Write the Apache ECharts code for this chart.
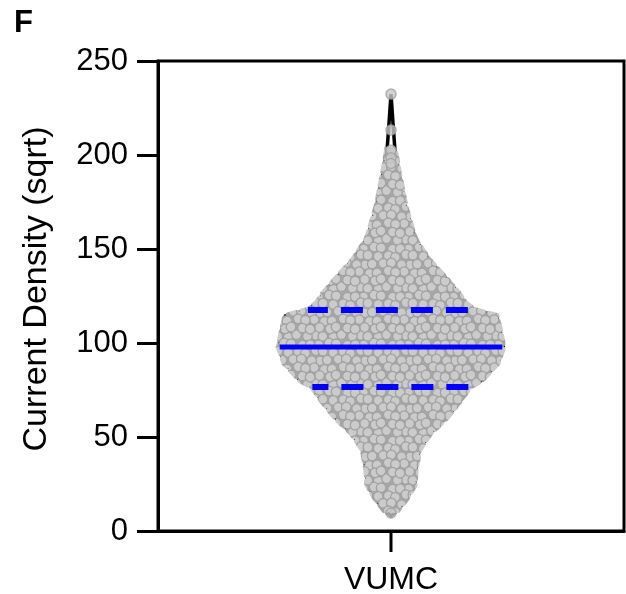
<!DOCTYPE html>
<html>
<head>
<meta charset="utf-8">
<script src="https://cdn.jsdelivr.net/npm/echarts@6/dist/echarts.min.js"></script>
<style>
html,body{margin:0;padding:0;background:#fff;}
#chart{width:626px;height:594px;}
</style>
</head>
<body>
<div id="chart"></div>
<script>
// ---- data ----
const categories = ['VUMC'];
const yMin = 0, yMax = 250, yInterval = 50;
const yName = 'Current Density (sqrt)';
const panelLabel = 'F';
// violin outline: value levels (top to bottom) and relative density (0..1)
const violinValues  = [232.4, 213.3, 202.7, 190.4, 172.3, 160.1, 154.8, 144.1, 133.5, 126.6, 121.3, 117.6, 114.4, 106.9, 97.9, 89.4, 80.3, 76.6, 69.7, 60.6, 52.1, 43.1, 32.4, 24.5, 16.5, 11.2, 8.0];
const violinDensity = [0, 0.022, 0.035, 0.07, 0.13, 0.19, 0.22, 0.34, 0.50, 0.60, 0.66, 0.74, 0.94, 0.97, 1.0, 0.95, 0.81, 0.70, 0.62, 0.50, 0.35, 0.25, 0.22, 0.21, 0.13, 0.06, 0];
const medianValue = 97.9;
const quartileValues = [76.6, 117.6];
const extremePoints = [232.4, 213.3, 202.5, 198.5, 195.5, 9.6];

// ---- styles ----
const FONT = '"Liberation Sans", Arial, Helvetica, sans-serif';
const MAX_HALF = 0.241; // fraction of band width at density 1

function makeTile(){
  const W = 45, H = 48;
  const c = document.createElement('canvas'); c.width = W; c.height = H;
  const g = c.getContext('2d');
  g.fillStyle = '#a8a8a8'; g.fillRect(0,0,W,H);
  const jit=[[0.8,-0.6],[-1.2,0.4],[0.3,1.1],[-0.5,-1.3],[1.4,0.2],[-0.9,0.9],[0.6,-1.0],[-1.4,-0.2],[1.0,1.2],[-0.3,0.7],[0.9,-1.4],[-1.1,-0.8],[0.2,0.5],[1.3,-0.3],[-0.7,1.3],[0.5,0.9],[-1.3,0.1],[0.7,-0.7],[-0.2,-1.1],[1.1,0.6],[-0.8,-0.4],[0.4,1.4],[-1.0,1.0],[1.2,-1.2],[-0.6,0.3],[0.1,-0.5],[1.5,0.8],[-1.5,-1.0],[0.9,0.1],[-0.4,1.2]];
  let k = 0;
  for (let r = 0; r < 6; r++) for (let col = 0; col < 5; col++) {
    const j = jit[k++];
    const x = col*9 + (r%2 ? 4.5 : 0) + j[0], y = r*8 + j[1];
    for (const ox of [-W,0,W]) for (const oy of [-H,0,H]) {
      g.beginPath(); g.arc(x+ox, y+oy, 4.8, 0, Math.PI*2);
      g.fillStyle = '#cbcbcb'; g.fill();
      g.lineWidth = 1.3; g.strokeStyle = '#a2a2a2'; g.stroke();
    }
  }
  return c;
}
const tile = makeTile();

function densityAt(v){
  for (let i = 0; i < violinValues.length-1; i++){
    const a = violinValues[i], b = violinValues[i+1];
    if (v <= a && v >= b){
      const t = (a - v)/(a - b);
      return violinDensity[i] + t*(violinDensity[i+1]-violinDensity[i]);
    }
  }
  return 0;
}

const chart = echarts.init(document.getElementById('chart'), null, {renderer:'canvas'});

function renderViolin(params, api){
  const bw = api.size([1,0])[0];
  const scale = bw*MAX_HALF;
  const cx = api.coord([0, medianValue])[0];
  const left = [], right = [], fl = [], fr = [];
  for (let i = 0; i < violinValues.length; i++){
    const y = api.coord([0, violinValues[i]])[1];
    const w = violinDensity[i]*scale;
    left.push([cx - w, y]); right.push([cx + w, y]);
    if (violinDensity[i] > 0.03){ fl.push([cx - w, y]); fr.push([cx + w, y]); }
  }
  const outline = left.concat(right.reverse());
  const fillPts = fl.concat(fr.reverse());
  const y0 = api.coord([0, yMin])[1];
  const children = [
    {type:'polygon', shape:{points: outline}, style:{fill:'none', stroke:'#000', lineWidth:3.5}},
    {type:'polygon', shape:{points: fillPts}, style:{fill:{image: tile, repeat:'repeat'}, stroke:{image: tile, repeat:'repeat'}, lineWidth:6, lineDash:[8,6], lineCap:'round'}},
    // x-axis tick under the category
    {type:'line', shape:{x1: cx, y1: y0, x2: cx, y2: y0 + 21}, style:{stroke:'#000', lineWidth:3}}
  ];
  const my = api.coord([0, medianValue])[1];
  const mw = densityAt(medianValue)*scale - 1;
  children.push({type:'line', shape:{x1: cx-mw, y1: my, x2: cx+mw, y2: my}, style:{stroke:'#0000ff', lineWidth:5}});
  const offsets = [6, 2];
  quartileValues.forEach(function(q, i){
    const qy = api.coord([0, q])[1];
    const qw = densityAt(q)*scale;
    children.push({type:'line', shape:{x1: cx-qw, y1: qy, x2: cx+qw, y2: qy}, style:{stroke:'#0000ff', lineWidth:6, lineDash:[22,13], lineDashOffset: offsets[i]}});
  });
  return {type:'group', children: children};
}

const option = {
  animation: false,
  backgroundColor: '#fff',
  textStyle: {fontFamily: FONT},
  graphic: [{type:'text', left: 14, top: 8, style:{text: panelLabel, fontSize: 31, fontWeight:'bold', fontFamily: FONT, fill:'#000'}}],
  grid: {left: 158, right: 2, top: 61, bottom: 63, show: true, borderColor:'#000', borderWidth:3, containLabel:false, outerBoundsMode:'none'},
  xAxis: {
    type:'category', data: categories,
    axisLine:{lineStyle:{color:'#000', width:3}},
    axisTick:{show:false},
    axisLabel:{fontSize:32, color:'#000', margin:33, fontFamily: FONT},
    splitLine:{show:false}
  },
  yAxis: {
    type:'value', min:yMin, max:yMax, interval:yInterval,
    name: yName, nameLocation:'middle', nameRotate:90, nameGap:104,
    nameTextStyle:{fontSize:34, color:'#000', fontFamily: FONT, padding:[0,0,0,14]},
    axisLine:{show:true, lineStyle:{color:'#000', width:3}},
    axisTick:{show:true, length:21, lineStyle:{color:'#000', width:3}},
    axisLabel:{fontSize:31, color:'#000', margin:30, fontFamily: FONT},
    splitLine:{show:false}
  },
  series: [
    {type:'custom', data:[[0, medianValue]], renderItem: renderViolin, clip:false, z:2},
    {type:'scatter', data: extremePoints.map(function(v){return [0, v];}), symbol:'circle', symbolSize:10,
     itemStyle:{color:'#c8c8c8', borderColor:'#a0a0a0', borderWidth:1.5}, z:3}
  ]
};
chart.setOption(option);
</script>
</body>
</html>
